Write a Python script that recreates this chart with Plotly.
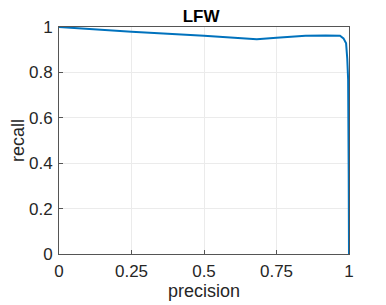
import plotly.graph_objects as go

precision = [0.0, 0.25, 0.5, 0.682, 0.75, 0.85, 0.92, 0.969, 0.981, 0.990, 0.994, 0.997, 0.999, 1.0]
recall    = [1.0, 0.979, 0.962, 0.946, 0.953, 0.961, 0.963, 0.962, 0.95, 0.928, 0.86, 0.77, 0.35, 0.0]

x_ticks = [0, 0.25, 0.5, 0.75, 1]
x_tick_labels = ["0", "0.25", "0.5", "0.75", "1"]
y_ticks = [0, 0.2, 0.4, 0.6, 0.8, 1]
y_tick_labels = ["0", "0.2", "0.4", "0.6", "0.8", "1"]

FONT = "Liberation Sans, Arial"

fig = go.Figure()
fig.add_trace(go.Scatter(x=precision, y=recall, mode="lines",
                         line=dict(color="#0072BD", width=2), showlegend=False))

axis_common = dict(
    showgrid=True, gridcolor="#ebebeb", gridwidth=1,
    showline=True, linecolor="#555555", linewidth=1, mirror=True,
    ticks="inside", ticklen=4, tickcolor="#555555",
    zeroline=False, automargin=False,
    tickfont=dict(family=FONT, size=17, color="#262626"),
)

# page body has an 8px default margin, so the figure is sized/offset accordingly
fig.update_layout(
    width=378, height=297,
    margin=dict(l=51, r=37, t=19, b=51),
    paper_bgcolor="white", plot_bgcolor="white",
    title=dict(text="<b>LFW</b>", xref="paper", x=0.49, xanchor="center",
               yref="container", y=1 - 8 / 297, yanchor="middle",
               font=dict(family=FONT, size=17, color="black")),
    xaxis=dict(range=[0, 1], tickvals=x_ticks, ticktext=x_tick_labels,
               ticklabelstandoff=2,
               title=dict(text="precision", standoff=2,
                          font=dict(family=FONT, size=18, color="#262626")),
               **axis_common),
    yaxis=dict(range=[0, 1], tickvals=y_ticks, ticktext=y_tick_labels,
               ticklabelstandoff=2,
               title=dict(text="recall", standoff=6,
                          font=dict(family=FONT, size=18, color="#262626")),
               **axis_common),
)

fig.write_html("out.html")
